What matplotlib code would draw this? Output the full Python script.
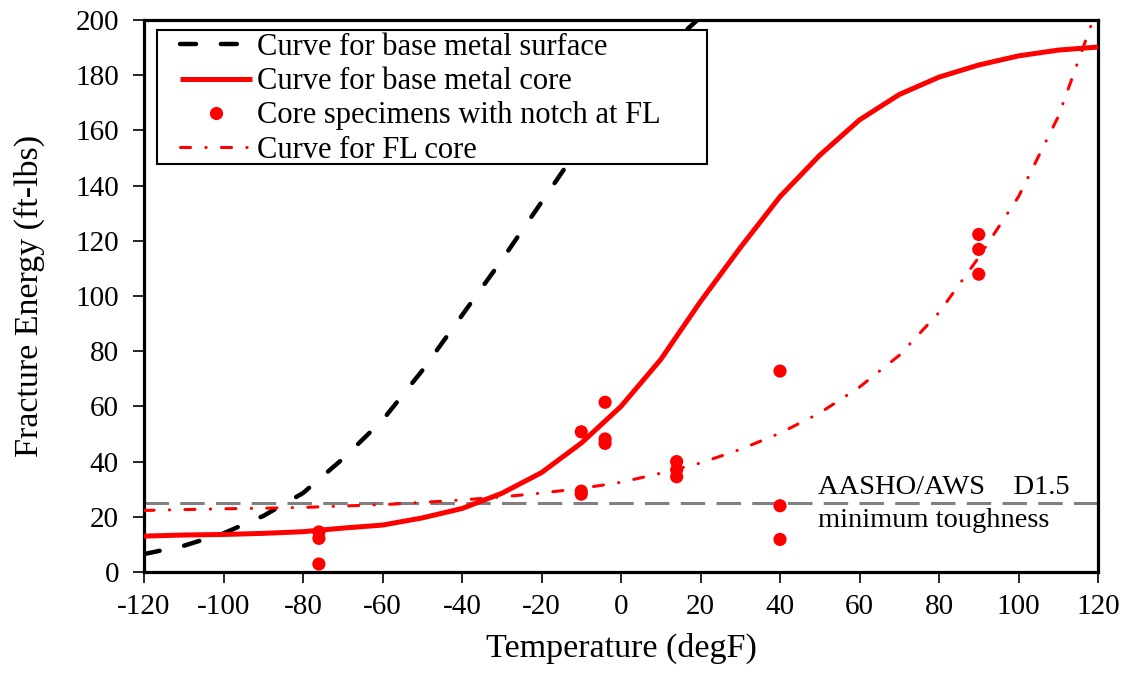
import matplotlib
matplotlib.use("Agg")
import matplotlib.pyplot as plt
from matplotlib.lines import Line2D
from matplotlib.patches import Rectangle

plt.rcParams['font.family'] = ['Liberation Serif', 'DejaVu Serif']

# Temperature grid (degF) for the fitted transition curves
temps = [-120, -110, -100, -90, -80, -70, -60, -50, -40, -30, -20, -10,
         0, 10, 20, 30, 40, 50, 60, 70, 80, 90, 100, 110, 120]

# Base metal surface curve (ft-lbs), drawn up to where it leaves the plot
surface_temps = [-120, -110, -100, -90, -80, -70, -60, -50, -40, -30, -20, -10, 0, 10, 20]
surface_energy = [6.5, 9.5, 14.0, 20.3, 28.6, 41.0, 55.0, 73.0, 93.0, 113.0, 134.0, 155.0, 173.0, 188.0, 201.0]

# Base metal core curve (ft-lbs)
core_energy = [13.0, 13.4, 13.6, 14.0, 14.6, 15.9, 17.0, 19.6, 23.0, 28.5, 36.0, 46.7,
               60.0, 77.0, 98.0, 117.5, 136.0, 151.0, 163.8, 173.0, 179.3, 183.7, 187.0, 189.1, 190.2]

# Fusion-line core curve (ft-lbs)
fl_energy = [22.3, 22.6, 22.9, 23.1, 23.4, 23.9, 24.4, 25.2, 26.1, 27.2, 28.6, 30.3,
             32.5, 35.8, 39.5, 44.4, 50.3, 57.6, 67.0, 78.5, 94.0, 114.0, 136.0, 165.0, 205.0]

# Core specimens with notch at the fusion line
spec_temp = [-76, -76, -76, -10, -10, -10, -4, -4, -4, 14, 14, 14, 40, 40, 40, 90, 90, 90]
spec_energy = [14.5, 12.2, 2.9, 50.8, 29.3, 28.2, 61.5, 48.2, 46.6, 40.0, 37.0, 34.5,
               72.8, 24.0, 11.8, 122.3, 116.9, 107.9]

min_toughness = 25

x_ticks = [-120, -100, -80, -60, -40, -20, 0, 20, 40, 60, 80, 100, 120]
y_ticks = [0, 20, 40, 60, 80, 100, 120, 140, 160, 180, 200]

fig = plt.figure(figsize=(11.34, 6.77), dpi=100)
ax = fig.add_axes([144 / 1134, 105 / 677, 954 / 1134, 552 / 677])

red = '#ff0000'
surface_style = dict(color='black', lw=3.2, dashes=(3.6, 5.6), dash_capstyle='round')
core_style = dict(color=red, lw=3.6, solid_capstyle='butt')
fl_style = dict(color=red, lw=2.2, dashes=(3.3, 5, 0.1, 5), dash_capstyle='round')

ax.axhline(min_toughness, color='#808080', lw=2.2, dashes=(8, 3.7), zorder=2)

ax.plot(surface_temps, surface_energy, zorder=3, **surface_style)
ax.plot(temps, core_energy, zorder=3, **core_style)
ax.plot(temps, fl_energy, zorder=3, **fl_style)
ax.scatter(spec_temp, spec_energy, s=90, color=red, edgecolors='none', zorder=4)

ax.text(49.6, 28.4, 'AASHO/AWS    D1.5', fontsize=20.5, ha='left', va='baseline')
ax.text(49.6, 16.3, 'minimum toughness', fontsize=20.5, ha='left', va='baseline')

ax.set_xlim(-120, 120)
ax.set_ylim(0, 200)
ax.set_xticks(x_ticks)
ax.set_yticks(y_ticks)
ax.set_xticklabels([str(t) for t in x_ticks])
ax.set_yticklabels([str(t) for t in y_ticks])
ax.tick_params(axis='both', labelsize=21, direction='out', length=8, width=1.2)
ax.tick_params(axis='y', pad=10)
ax.tick_params(axis='x', pad=8)
for side in ['left', 'right', 'top', 'bottom']:
    ax.spines[side].set_linewidth(2.3)

ax.set_xlabel('Temperature (degF)', fontsize=24.5, labelpad=9)
ax.set_ylabel('Fracture Energy (ft-lbs)', fontsize=24.5, labelpad=22)

# Legend box with a wide left margin before the handles
frame = Rectangle((13 / 954, (572 - 164) / 552), (707 - 157) / 954, (164 - 30) / 552,
                  transform=ax.transAxes, facecolor='white', edgecolor='black',
                  lw=1.5, zorder=9)
ax.add_patch(frame)

handles = [
    Line2D([], [], **surface_style),
    Line2D([], [], **core_style),
    Line2D([], [], color=red, lw=0, marker='o', markersize=9.5, markeredgewidth=0),
    Line2D([], [], **fl_style),
]
labels = ['Curve for base metal surface', 'Curve for base metal core',
          'Core specimens with notch at FL', 'Curve for FL core']
leg = ax.legend(handles, labels, loc='upper left',
                bbox_to_anchor=((180 - 144) / 954, (572 - 33) / 552),
                borderaxespad=0, fontsize=22, handlelength=2.35, handletextpad=0.16,
                labelspacing=0.17, borderpad=0, frameon=False)
leg.set_zorder(10)

fig.savefig('out.png', dpi=100)
